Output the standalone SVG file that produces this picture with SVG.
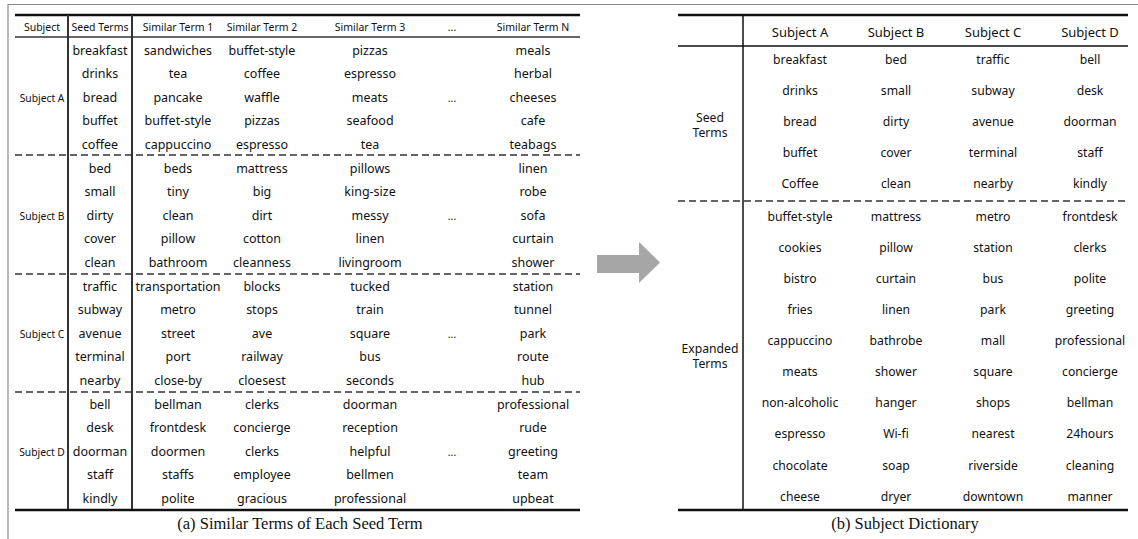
<svg xmlns="http://www.w3.org/2000/svg" width="1138" height="539" viewBox="0 0 1138 539">
<style>
text{font-family:"Noto Sans","Open Sans",sans-serif;fill:#111;text-anchor:middle}
.b{font-size:12.5px}
.h{font-size:10.5px}
.s{font-size:10.3px}
.rb{font-size:12.2px}
.rh{font-size:13px}
.cap{font-family:"Liberation Serif","Times New Roman",serif;font-size:16.5px}
.thick{stroke:#111;stroke-width:2.5}
.mid{stroke:#333;stroke-width:1.6}
.vl{stroke:#333;stroke-width:2}
.dash{stroke:#333;stroke-width:1.3;stroke-dasharray:7 4}
.frame{stroke:#8a8a8a;stroke-width:1.2;fill:none}
</style>
<rect width="1138" height="539" fill="#fff"/>
<path class="frame" d="M8 539 V4.5 H1138"/>

<g id="table-a">
<g id="table-a-lines">
<line class="thick" x1="15" y1="15" x2="580" y2="15"/>
<line class="mid" x1="15" y1="37" x2="580" y2="37"/>
<line class="vl" x1="68" y1="15" x2="68" y2="510"/>
<line class="vl" x1="132" y1="15" x2="132" y2="510"/>
<line class="dash" x1="15" y1="155" x2="580" y2="155"/>
<line class="dash" x1="15" y1="274" x2="580" y2="274"/>
<line class="dash" x1="15" y1="392" x2="580" y2="392"/>
<line class="thick" x1="15" y1="510" x2="580" y2="510"/>
</g>
<g id="table-a-header" class="h">
<text x="42" y="30.7">Subject</text>
<text x="100" y="30.7">Seed Terms</text>
<text x="178" y="30.7">Similar Term 1</text>
<text x="262" y="30.7">Similar Term 2</text>
<text x="370" y="30.7">Similar Term 3</text>
<text x="452" y="30.7">...</text>
<text x="533" y="30.7">Similar Term N</text>
</g>
<g id="table-a-subjects" class="s">
<text x="42" y="101.5">Subject A</text>
<text x="42" y="219.5">Subject B</text>
<text x="42" y="337.5">Subject C</text>
<text x="42" y="455.5">Subject D</text>
</g>
<g id="table-a-seed" class="b">
<text x="100" y="54.5">breakfast</text>
<text x="100" y="78.1">drinks</text>
<text x="100" y="101.7">bread</text>
<text x="100" y="125.3">buffet</text>
<text x="100" y="148.9">coffee</text>
<text x="100" y="172.5">bed</text>
<text x="100" y="196.1">small</text>
<text x="100" y="219.7">dirty</text>
<text x="100" y="243.3">cover</text>
<text x="100" y="266.9">clean</text>
<text x="100" y="290.5">traffic</text>
<text x="100" y="314.1">subway</text>
<text x="100" y="337.7">avenue</text>
<text x="100" y="361.3">terminal</text>
<text x="100" y="384.9">nearby</text>
<text x="100" y="408.5">bell</text>
<text x="100" y="432.1">desk</text>
<text x="100" y="455.7">doorman</text>
<text x="100" y="479.3">staff</text>
<text x="100" y="502.9">kindly</text>
</g>
<g id="table-a-sim1" class="b">
<text x="178" y="54.5">sandwiches</text>
<text x="178" y="78.1">tea</text>
<text x="178" y="101.7">pancake</text>
<text x="178" y="125.3">buffet-style</text>
<text x="178" y="148.9">cappuccino</text>
<text x="178" y="172.5">beds</text>
<text x="178" y="196.1">tiny</text>
<text x="178" y="219.7">clean</text>
<text x="178" y="243.3">pillow</text>
<text x="178" y="266.9">bathroom</text>
<text x="178" y="290.5">transportation</text>
<text x="178" y="314.1">metro</text>
<text x="178" y="337.7">street</text>
<text x="178" y="361.3">port</text>
<text x="178" y="384.9">close-by</text>
<text x="178" y="408.5">bellman</text>
<text x="178" y="432.1">frontdesk</text>
<text x="178" y="455.7">doormen</text>
<text x="178" y="479.3">staffs</text>
<text x="178" y="502.9">polite</text>
</g>
<g id="table-a-sim2" class="b">
<text x="262" y="54.5">buffet-style</text>
<text x="262" y="78.1">coffee</text>
<text x="262" y="101.7">waffle</text>
<text x="262" y="125.3">pizzas</text>
<text x="262" y="148.9">espresso</text>
<text x="262" y="172.5">mattress</text>
<text x="262" y="196.1">big</text>
<text x="262" y="219.7">dirt</text>
<text x="262" y="243.3">cotton</text>
<text x="262" y="266.9">cleanness</text>
<text x="262" y="290.5">blocks</text>
<text x="262" y="314.1">stops</text>
<text x="262" y="337.7">ave</text>
<text x="262" y="361.3">railway</text>
<text x="262" y="384.9">cloesest</text>
<text x="262" y="408.5">clerks</text>
<text x="262" y="432.1">concierge</text>
<text x="262" y="455.7">clerks</text>
<text x="262" y="479.3">employee</text>
<text x="262" y="502.9">gracious</text>
</g>
<g id="table-a-sim3" class="b">
<text x="370" y="54.5">pizzas</text>
<text x="370" y="78.1">espresso</text>
<text x="370" y="101.7">meats</text>
<text x="370" y="125.3">seafood</text>
<text x="370" y="148.9">tea</text>
<text x="370" y="172.5">pillows</text>
<text x="370" y="196.1">king-size</text>
<text x="370" y="219.7">messy</text>
<text x="370" y="243.3">linen</text>
<text x="370" y="266.9">livingroom</text>
<text x="370" y="290.5">tucked</text>
<text x="370" y="314.1">train</text>
<text x="370" y="337.7">square</text>
<text x="370" y="361.3">bus</text>
<text x="370" y="384.9">seconds</text>
<text x="370" y="408.5">doorman</text>
<text x="370" y="432.1">reception</text>
<text x="370" y="455.7">helpful</text>
<text x="370" y="479.3">bellmen</text>
<text x="370" y="502.9">professional</text>
</g>
<g id="table-a-ellipsis" class="h">
<text x="452" y="101.7">...</text>
<text x="452" y="219.7">...</text>
<text x="452" y="337.7">...</text>
<text x="452" y="455.7">...</text>
</g>
<g id="table-a-simN" class="b">
<text x="533" y="54.5">meals</text>
<text x="533" y="78.1">herbal</text>
<text x="533" y="101.7">cheeses</text>
<text x="533" y="125.3">cafe</text>
<text x="533" y="148.9">teabags</text>
<text x="533" y="172.5">linen</text>
<text x="533" y="196.1">robe</text>
<text x="533" y="219.7">sofa</text>
<text x="533" y="243.3">curtain</text>
<text x="533" y="266.9">shower</text>
<text x="533" y="290.5">station</text>
<text x="533" y="314.1">tunnel</text>
<text x="533" y="337.7">park</text>
<text x="533" y="361.3">route</text>
<text x="533" y="384.9">hub</text>
<text x="533" y="408.5">professional</text>
<text x="533" y="432.1">rude</text>
<text x="533" y="455.7">greeting</text>
<text x="533" y="479.3">team</text>
<text x="533" y="502.9">upbeat</text>
</g>
<text id="caption-a" class="cap" x="300" y="529">(a) Similar Terms of Each Seed Term</text>
</g>

<g id="connectors">
<polygon points="597,255 639,255 639,242 660,262.5 639,283 639,273 597,273" fill="#a6a6a6"/>
</g>

<g id="table-b">
<g id="table-b-lines">
<line class="thick" x1="678" y1="15" x2="1128" y2="15"/>
<line stroke="#111" stroke-width="1.5" x1="678" y1="46" x2="1128" y2="46"/>
<line stroke="#111" stroke-width="1.5" x1="743" y1="15" x2="743" y2="510"/>
<line class="dash" x1="678" y1="201" x2="1128" y2="201"/>
<line class="thick" x1="678" y1="510" x2="1128" y2="510"/>
</g>
<g id="table-b-header" class="rh">
<text x="800" y="36.7">Subject A</text>
<text x="896" y="36.7">Subject B</text>
<text x="993" y="36.7">Subject C</text>
<text x="1090" y="36.7">Subject D</text>
</g>
<g id="table-b-rowlabels" class="rb">
<text x="710" y="121.7">Seed</text>
<text x="710" y="136.7">Terms</text>
<text x="710" y="352.7">Expanded</text>
<text x="710" y="367.7">Terms</text>
</g>
<g id="table-b-subjectA" class="rb">
<text x="800" y="64">breakfast</text>
<text x="800" y="94.9">drinks</text>
<text x="800" y="125.8">bread</text>
<text x="800" y="156.7">buffet</text>
<text x="800" y="187.6">Coffee</text>
<text x="800" y="220.7">buffet-style</text>
<text x="800" y="251.8">cookies</text>
<text x="800" y="282.9">bistro</text>
<text x="800" y="314">fries</text>
<text x="800" y="345.1">cappuccino</text>
<text x="800" y="376.2">meats</text>
<text x="800" y="407.3">non-alcoholic</text>
<text x="800" y="438.4">espresso</text>
<text x="800" y="469.5">chocolate</text>
<text x="800" y="500.6">cheese</text>
</g>
<g id="table-b-subjectB" class="rb">
<text x="896" y="64">bed</text>
<text x="896" y="94.9">small</text>
<text x="896" y="125.8">dirty</text>
<text x="896" y="156.7">cover</text>
<text x="896" y="187.6">clean</text>
<text x="896" y="220.7">mattress</text>
<text x="896" y="251.8">pillow</text>
<text x="896" y="282.9">curtain</text>
<text x="896" y="314">linen</text>
<text x="896" y="345.1">bathrobe</text>
<text x="896" y="376.2">shower</text>
<text x="896" y="407.3">hanger</text>
<text x="896" y="438.4">Wi-fi</text>
<text x="896" y="469.5">soap</text>
<text x="896" y="500.6">dryer</text>
</g>
<g id="table-b-subjectC" class="rb">
<text x="993" y="64">traffic</text>
<text x="993" y="94.9">subway</text>
<text x="993" y="125.8">avenue</text>
<text x="993" y="156.7">terminal</text>
<text x="993" y="187.6">nearby</text>
<text x="993" y="220.7">metro</text>
<text x="993" y="251.8">station</text>
<text x="993" y="282.9">bus</text>
<text x="993" y="314">park</text>
<text x="993" y="345.1">mall</text>
<text x="993" y="376.2">square</text>
<text x="993" y="407.3">shops</text>
<text x="993" y="438.4">nearest</text>
<text x="993" y="469.5">riverside</text>
<text x="993" y="500.6">downtown</text>
</g>
<g id="table-b-subjectD" class="rb">
<text x="1090" y="64">bell</text>
<text x="1090" y="94.9">desk</text>
<text x="1090" y="125.8">doorman</text>
<text x="1090" y="156.7">staff</text>
<text x="1090" y="187.6">kindly</text>
<text x="1090" y="220.7">frontdesk</text>
<text x="1090" y="251.8">clerks</text>
<text x="1090" y="282.9">polite</text>
<text x="1090" y="314">greeting</text>
<text x="1090" y="345.1">professional</text>
<text x="1090" y="376.2">concierge</text>
<text x="1090" y="407.3">bellman</text>
<text x="1090" y="438.4">24hours</text>
<text x="1090" y="469.5">cleaning</text>
<text x="1090" y="500.6">manner</text>
</g>
<text id="caption-b" class="cap" x="905" y="529">(b) Subject Dictionary</text>
</g>
</svg>
